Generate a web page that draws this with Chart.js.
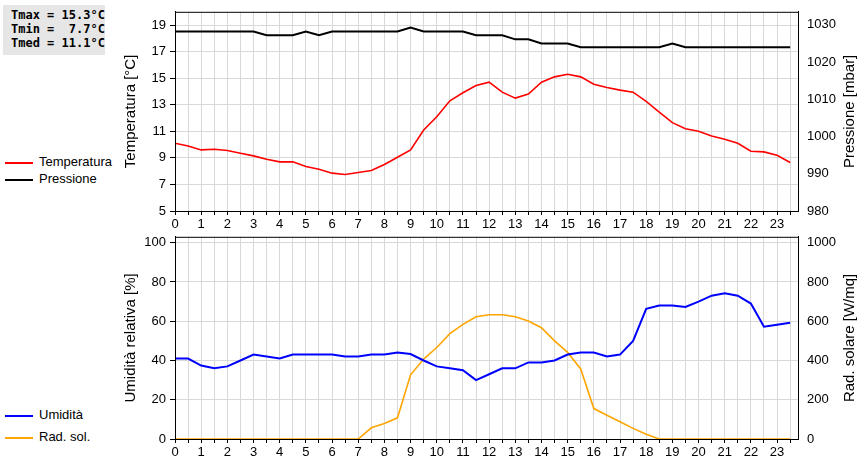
<!DOCTYPE html>
<html>
<head>
<script src="https://cdn.jsdelivr.net/npm/chart.js@4/dist/chart.umd.min.js"></script>
<style>
  body { margin: 0; background: #fff; font-family: "Liberation Sans", Arial, sans-serif; }
  .wrap { position: absolute; }
  .box { position: absolute; left: 3px; top: 5px; width: 102px; height: 50px; background: #e6e6e6;
         font: bold 12px "DejaVu Sans Mono", monospace; white-space: pre; padding: 3px 0 0 8px; box-sizing: border-box; line-height: 14px; }
  .leg { position: absolute; left: 5px; font-size: 13px; }
  .leg span { display: inline-block; width: 28px; height: 2px; vertical-align: middle; margin-right: 6px; }
</style>
</head>
<body>
  <div class="box">Tmax = 15.3°C
Tmin =  7.7°C
Tmed = 11.1°C</div>
  <div class="leg" style="top:154px"><span style="background:#f00"></span>Temperatura</div>
  <div class="leg" style="top:171px"><span style="background:#000"></span>Pressione</div>
  <div class="leg" style="top:407px"><span style="background:#00f"></span>Umidità</div>
  <div class="leg" style="top:429px"><span style="background:#ffa500"></span>Rad. sol.</div>
  <div class="wrap" style="left:120px;top:0;width:740px;height:232px"><canvas id="top"></canvas></div>
  <div class="wrap" style="left:120px;top:225px;width:740px;height:235px"><canvas id="bot"></canvas></div>
<script>
// half-hourly readings, 0:00 .. 23:30
var hours = [];
for (var i = 0; i < 48; i++) hours.push(i / 2);

var temperatura = [10.1, 9.9, 9.6, 9.65, 9.55, 9.35, 9.15, 8.9, 8.7, 8.7, 8.35, 8.15, 7.85, 7.75, 7.9, 8.05,
  8.5, 9.05, 9.6, 11.1, 12.1, 13.3, 13.9, 14.45, 14.7, 13.95, 13.5, 13.8, 14.7, 15.1, 15.3, 15.1,
  14.55, 14.3, 14.1, 13.95, 13.25, 12.45, 11.65, 11.2, 11.0, 10.65, 10.4, 10.1, 9.5, 9.45, 9.2, 8.65];
var pressione = [1028.2, 1028.2, 1028.2, 1028.2, 1028.2, 1028.2, 1028.2, 1027.2, 1027.2, 1027.2, 1028.2, 1027.2,
  1028.2, 1028.2, 1028.2, 1028.2, 1028.2, 1028.2, 1029.3, 1028.2, 1028.2, 1028.2, 1028.2, 1027.2,
  1027.2, 1027.2, 1026.1, 1026.1, 1025, 1025, 1025, 1024, 1024, 1024, 1024, 1024, 1024, 1024,
  1025, 1024, 1024, 1024, 1024, 1024, 1024, 1024, 1024, 1024];
var umidita = [41, 41, 37.4, 36, 37, 40, 43, 42, 41, 43, 43, 43, 43, 42, 42, 43, 43, 44, 43.3, 40, 37, 36, 35, 30,
  33, 36, 36, 39, 39, 40, 43, 44, 44, 42, 43, 50, 66.3, 68, 68, 67.3, 70, 73, 74.2, 73, 69, 57.2, 58.2, 59.2];
var radiazione = [0, 0, 0, 0, 0, 0, 0, 0, 0, 0, 0, 0, 0, 0, 0, 57, 79, 108, 327, 407, 466, 537, 584, 623,
  633, 633, 623, 601, 567, 500, 441, 357, 155, 121, 88, 54, 24, 0, 0, 0, 0, 0, 0, 0, 0, 0, 0, 0];

var tempTicks = [5, 7, 9, 11, 13, 15, 17, 19];
var pressTicks = [980, 990, 1000, 1010, 1020, 1030];
var umTicks = [0, 20, 40, 60, 80, 100];
var radTicks = [0, 200, 400, 600, 800, 1000];

Chart.defaults.font.family = '"Liberation Sans", Arial, sans-serif';
Chart.defaults.color = '#000';
Chart.defaults.animation = false;

// frame around plot area + right-axis title written bottom-to-top
var frame = {
  id: 'frame',
  afterDraw: function (c, args, o) {
    var a = c.chartArea, x = c.ctx;
    x.save(); x.strokeStyle = '#000'; x.lineWidth = 1;
    x.strokeRect(a.left + 0.5, a.top + 0.5, a.right - a.left, a.bottom - a.top);
    x.translate(c.width - 10, (a.top + a.bottom) / 2);
    x.rotate(-Math.PI / 2);
    x.font = '15px "Liberation Sans", Arial, sans-serif';
    x.fillStyle = '#000'; x.textAlign = 'center'; x.textBaseline = 'middle';
    x.fillText(o.text, 0, 0);
    x.restore();
  }
};

function pts(vals) { return vals.map(function (v, i) { return { x: hours[i], y: v }; }); }
function fixed(list) { return function (s) { s.ticks = list.map(function (v) { return { value: v }; }); }; }

function xAxis() {
  return {
    type: 'linear', min: 0, max: 23.8,
    afterBuildTicks: function (s) { s.ticks = hours.map(function (v) { return { value: v }; }); },
    afterFit: function (s) { s.height = 21; },
    ticks: { font: { size: 13 }, maxRotation: 0, autoSkip: false, padding: 2,
      callback: function (v) { return Number.isInteger(v) ? String(v) : ''; } },
    grid: { color: '#d9d9d9', tickLength: 4, tickColor: '#000' },
    border: { color: '#000' }
  };
}

function yAxis(pos, min, max, list, title, w, grid) {
  return {
    type: 'linear', position: pos, min: min, max: max,
    afterBuildTicks: fixed(list),
    afterFit: function (s) { s.width = w; },
    ticks: { font: { size: 13 }, padding: 4, callback: function (v) { return String(v); } },
    title: { display: !!title, text: title, font: { size: 15 }, padding: 2 },
    grid: { display: grid, color: '#d9d9d9', tickLength: 5, tickColor: '#000' },
    border: { color: '#000' }
  };
}

function opts(scales, rightTitle) {
  return {
    responsive: true, maintainAspectRatio: false,
    layout: { padding: { top: 10 } },
    plugins: { legend: { display: false }, tooltip: { enabled: false }, frame: { text: rightTitle } },
    elements: { point: { radius: 0 }, line: { tension: 0 } },
    scales: scales
  };
}

new Chart('top', {
  type: 'line',
  data: { datasets: [
    { data: pts(temperatura), borderColor: '#f00', borderWidth: 1.6, yAxisID: 'y' },
    { data: pts(pressione), borderColor: '#000', borderWidth: 2, yAxisID: 'y1' }
  ] },
  options: opts({
    x: xAxis(),
    y: yAxis('left', 5, 20, tempTicks, 'Temperatura [°C]', 55, true),
    y1: yAxis('right', 980, 1033.5, pressTicks, '', 62, false)
  }, 'Pressione [mbar]'),
  plugins: [frame]
});

new Chart('bot', {
  type: 'line',
  data: { datasets: [
    { data: pts(umidita), borderColor: '#00f', borderWidth: 2, yAxisID: 'y' },
    { data: pts(radiazione), borderColor: '#ffa500', borderWidth: 1.6, yAxisID: 'y1' }
  ] },
  options: opts({
    x: xAxis(),
    y: yAxis('left', 0, 103, umTicks, 'Umidità relativa [%]', 55, true),
    y1: yAxis('right', 0, 1030, radTicks, '', 62, false)
  }, 'Rad. solare [W/mq]'),
  plugins: [frame]
});
</script>
</body>
</html>
